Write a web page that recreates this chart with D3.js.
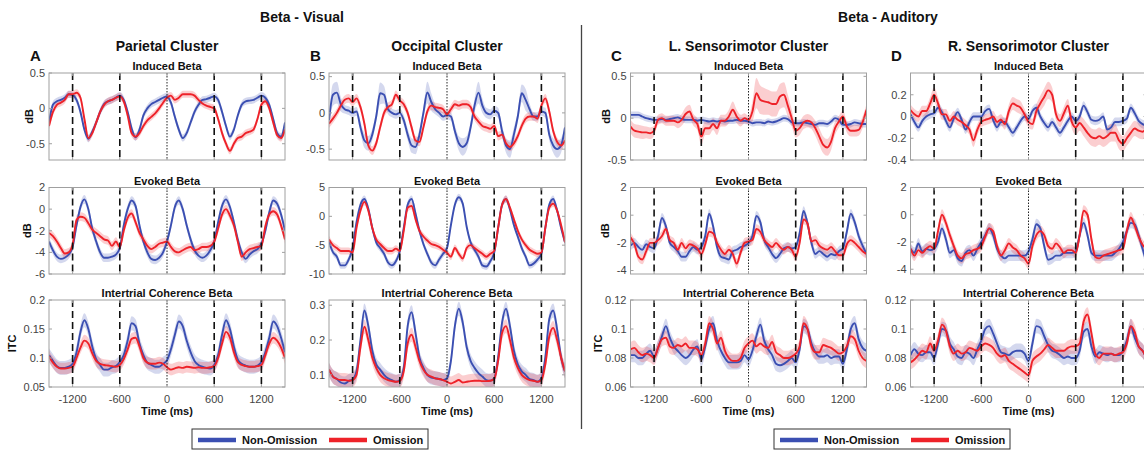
<!DOCTYPE html>
<html>
<head>
<meta charset="utf-8">
<script src="https://cdn.jsdelivr.net/npm/d3@7"></script>
<style>
  body { margin: 0; background: #fff; }
  text { font-family: "Liberation Sans", Arial, sans-serif; }
</style>
</head>
<body>
<svg id="chart" width="1144" height="451"></svg>
<script>
// time axis (ms), sampled every 50 ms
const times = [-1500,-1450,-1400,-1350,-1300,-1250,-1200,-1150,-1100,-1050,
  -1000,-950,-900,-850,-800,-750,-700,-650,-600,-550,
  -500,-450,-400,-350,-300,-250,-200,-150,-100,-50,
  0,50,100,150,200,250,300,350,400,450,
  500,550,600,650,700,750,800,850,900,950,
  1000,1050,1100,1150,1200,1250,1300,1350,1400,1450,1500];

const xTicks = [-1200, -600, 0, 600, 1200];
const cueTimes = [-1200, -600, 600, 1200];
const seriesNames = ['Non-Omission', 'Omission'];

// A - Parietal cluster
const parIndNon = [-0.2,0.05,0.1,0.12,0.15,0.2,0.19,0.12,-0.05,-0.3,
  -0.43,-0.33,-0.2,-0.05,0.06,0.1,0.12,0.15,0.18,0.12,
  -0.05,-0.28,-0.41,-0.3,-0.1,0.0,0.06,0.09,0.12,0.15,
  0.17,0.08,-0.12,-0.3,-0.42,-0.35,-0.2,-0.05,0.05,0.12,
  0.13,0.15,0.17,0.12,-0.05,-0.25,-0.4,-0.3,-0.1,0.05,
  0.1,0.11,0.12,0.15,0.18,0.15,0.05,-0.15,-0.35,-0.4,-0.2];
const parIndOm = [-0.25,-0.05,0.05,0.08,0.12,0.2,0.2,0.22,0.15,-0.15,
  -0.42,-0.35,-0.2,-0.05,0.05,0.1,0.12,0.15,0.17,0.1,
  -0.1,-0.35,-0.4,-0.35,-0.25,-0.17,-0.12,-0.07,0.0,0.08,
  0.15,0.18,0.12,0.15,0.2,0.2,0.2,0.18,0.12,0.07,
  0.04,0.02,0.0,-0.15,-0.35,-0.5,-0.6,-0.5,-0.42,-0.4,
  -0.35,-0.33,-0.3,-0.15,0.05,0.1,0.0,-0.2,-0.38,-0.42,-0.3];
const parEvoNon = [-3.0,-3.8,-4.4,-4.6,-4.5,-4.2,-3.5,-1.5,0.2,0.9,
  0.0,-1.8,-3.0,-4.0,-4.5,-4.5,-4.4,-4.2,-3.6,-1.5,
  0.0,0.8,0.3,-1.5,-3.0,-4.0,-4.6,-4.7,-4.5,-4.0,
  -3.0,-1.5,0.2,0.8,0.0,-1.5,-2.8,-3.8,-4.3,-4.5,
  -4.3,-3.8,-3.0,-1.2,0.3,0.9,0.2,-1.2,-2.8,-4.0,
  -4.6,-4.2,-3.9,-3.7,-3.2,-2.0,-0.3,0.8,0.5,-0.5,-2.0];
const parEvoOm = [-2.2,-2.5,-3.0,-3.6,-4.1,-4.0,-3.3,-1.0,-0.7,-0.8,
  -1.3,-1.9,-2.2,-2.5,-2.8,-2.9,-3.4,-3.0,-3.5,-2.0,
  -0.8,-0.4,-1.2,-2.2,-2.8,-3.4,-3.7,-3.5,-3.2,-3.1,
  -3.0,-3.5,-3.9,-4.0,-3.8,-3.6,-3.5,-3.8,-3.7,-3.5,
  -3.5,-3.4,-3.0,-1.8,-0.5,0.0,-0.6,-1.5,-3.0,-4.4,
  -4.0,-3.7,-3.6,-3.5,-3.4,-1.6,-0.5,-0.2,-0.5,-1.5,-2.8];
const parItcNon = [0.105,0.095,0.086,0.083,0.083,0.085,0.09,0.11,0.145,0.165,
  0.15,0.12,0.098,0.088,0.08,0.08,0.084,0.086,0.093,0.105,
  0.13,0.16,0.155,0.125,0.105,0.092,0.088,0.085,0.085,0.09,
  0.096,0.115,0.14,0.163,0.155,0.13,0.11,0.095,0.088,0.085,
  0.083,0.082,0.088,0.105,0.14,0.165,0.15,0.12,0.097,0.09,
  0.087,0.085,0.085,0.087,0.093,0.11,0.135,0.163,0.155,0.135,0.11];
const parItcOm = [0.103,0.092,0.085,0.082,0.082,0.083,0.085,0.1,0.118,0.13,
  0.125,0.108,0.095,0.09,0.088,0.087,0.086,0.085,0.088,0.098,
  0.115,0.133,0.135,0.12,0.1,0.092,0.09,0.09,0.092,0.09,
  0.084,0.08,0.082,0.084,0.083,0.085,0.084,0.083,0.084,0.083,
  0.083,0.084,0.086,0.1,0.125,0.145,0.135,0.11,0.093,0.088,
  0.086,0.085,0.085,0.086,0.088,0.105,0.125,0.135,0.13,0.118,0.1];

// B - Occipital cluster
const occIndNon = [-0.1,0.25,0.28,0.12,0.05,0.03,0.0,0.02,-0.2,-0.38,
  -0.42,-0.3,-0.05,0.27,0.25,0.05,0.0,-0.02,0.0,-0.1,
  -0.3,-0.45,-0.47,-0.3,0.0,0.28,0.15,0.05,0.0,-0.05,
  -0.03,-0.05,-0.25,-0.42,-0.47,-0.42,-0.2,0.1,0.28,0.1,
  0.0,-0.02,0.03,0.0,-0.25,-0.45,-0.5,-0.3,-0.05,0.27,
  0.18,0.05,-0.05,-0.05,0.02,0.0,-0.3,-0.45,-0.5,-0.45,-0.2];
const occIndOm = [-0.15,-0.08,0.0,0.1,0.18,0.2,0.15,0.2,0.08,-0.15,
  -0.45,-0.52,-0.42,-0.2,0.0,0.08,0.12,0.25,0.17,0.12,
  0.0,-0.2,-0.38,-0.4,-0.2,0.02,0.1,0.08,0.07,0.05,
  -0.02,0.05,0.12,0.1,0.12,0.12,0.08,-0.05,-0.12,-0.18,
  -0.2,-0.22,-0.18,-0.32,-0.3,-0.42,-0.47,-0.42,-0.32,-0.18,
  -0.08,-0.05,-0.05,-0.08,0.1,0.2,0.02,-0.25,-0.4,-0.45,-0.38];
const occEvoNon = [-4.5,-6.2,-7.0,-8.5,-8.5,-7.5,-5.5,-1.0,2.0,3.0,
  1.3,-2.0,-4.5,-5.5,-6.5,-8.0,-8.5,-7.8,-6.0,-2.0,
  2.0,3.0,0.5,-2.5,-4.8,-6.5,-8.0,-8.5,-7.5,-6.5,
  -5.5,-1.5,2.0,3.3,2.2,-1.8,-4.5,-5.8,-7.0,-8.5,
  -8.7,-7.8,-6.3,-2.0,2.0,3.0,1.2,-1.5,-3.5,-5.5,
  -7.0,-8.5,-8.2,-7.5,-6.5,-2.0,2.0,3.0,1.0,-2.0,-4.5];
const occEvoOm = [-4.0,-5.0,-5.5,-6.0,-6.0,-6.0,-6.3,-2.0,1.0,2.5,
  1.0,-2.0,-4.0,-4.8,-5.5,-6.0,-6.0,-5.6,-6.0,-2.5,
  1.5,1.8,-0.5,-2.5,-3.5,-4.2,-4.8,-5.0,-5.3,-5.8,
  -6.3,-7.0,-5.5,-6.5,-7.3,-5.5,-5.0,-5.5,-6.0,-6.5,
  -7.0,-6.5,-6.0,-2.0,2.0,3.0,1.5,-0.5,-2.5,-4.0,
  -5.0,-5.8,-6.2,-6.5,-6.3,-2.0,1.5,2.2,1.0,-1.5,-4.5];
const occItcNon = [0.115,0.095,0.088,0.078,0.075,0.082,0.087,0.11,0.2,0.285,
  0.24,0.17,0.13,0.115,0.1,0.09,0.085,0.08,0.085,0.12,
  0.24,0.28,0.22,0.15,0.12,0.1,0.092,0.09,0.088,0.085,
  0.09,0.14,0.24,0.29,0.25,0.18,0.14,0.12,0.105,0.095,
  0.085,0.083,0.09,0.15,0.25,0.29,0.24,0.17,0.13,0.11,
  0.1,0.088,0.085,0.08,0.09,0.15,0.26,0.285,0.23,0.15,0.11];
const occItcOm = [0.115,0.095,0.088,0.085,0.085,0.083,0.085,0.1,0.18,0.238,
  0.2,0.15,0.12,0.1,0.09,0.085,0.082,0.08,0.082,0.11,
  0.19,0.215,0.18,0.14,0.115,0.1,0.095,0.09,0.088,0.085,
  0.08,0.075,0.08,0.085,0.078,0.08,0.082,0.083,0.083,0.082,
  0.082,0.083,0.088,0.14,0.22,0.24,0.2,0.15,0.12,0.1,
  0.09,0.085,0.083,0.08,0.085,0.13,0.21,0.235,0.2,0.15,0.11];

// C - Left sensorimotor cluster
const lsmIndNon = [0.04,0.04,0.04,0.02,0.0,-0.01,-0.02,-0.02,-0.01,-0.02,
  -0.01,0.0,0.01,-0.01,-0.02,-0.02,-0.02,-0.03,-0.02,-0.03,
  -0.04,-0.03,-0.04,-0.03,-0.04,-0.03,-0.03,-0.02,-0.03,-0.03,
  -0.04,-0.06,-0.05,-0.05,-0.06,-0.04,-0.05,-0.04,-0.02,0.0,
  -0.01,-0.05,-0.06,-0.06,-0.05,-0.06,-0.07,-0.08,-0.06,-0.06,
  -0.07,-0.04,0.0,-0.02,-0.08,-0.08,-0.07,-0.05,-0.06,-0.07,-0.07];
const lsmIndOm = [-0.1,-0.15,-0.16,-0.17,-0.17,-0.18,-0.15,-0.02,0.0,-0.03,
  -0.03,-0.03,-0.05,-0.02,0.05,0.08,-0.02,-0.07,-0.22,-0.12,
  -0.12,-0.07,-0.12,-0.03,-0.03,0.02,0.1,0.02,-0.03,0.0,
  -0.02,0.08,0.3,0.22,0.2,0.19,0.17,0.17,0.26,0.28,
  0.15,0.0,-0.15,-0.12,-0.05,-0.03,-0.05,-0.12,-0.22,-0.32,
  -0.35,-0.28,-0.12,-0.04,0.02,-0.1,-0.15,-0.15,-0.14,-0.05,0.1];
const lsmEvoNon = [-2.2,-2.0,-2.3,-2.5,-2.1,-2.3,-2.4,-1.5,-0.2,-0.8,
  -2.0,-2.3,-2.6,-3.0,-3.0,-2.6,-2.3,-2.5,-2.3,-1.5,
  0.1,-0.8,-2.3,-3.0,-3.1,-3.2,-2.6,-2.5,-2.3,-2.2,
  -2.0,-1.5,-0.05,-0.5,-1.8,-2.3,-2.8,-3.1,-2.8,-2.4,
  -2.3,-2.4,-2.3,-1.3,0.3,-0.6,-2.0,-2.8,-2.6,-2.8,
  -3.0,-2.8,-2.9,-2.6,-2.4,-1.2,0.1,-0.5,-1.5,-2.2,-2.8];
const lsmEvoOm = [-1.6,-2.1,-3.0,-3.2,-2.6,-2.0,-2.0,-1.8,-1.5,-1.0,
  -1.8,-2.0,-2.5,-2.0,-2.4,-2.1,-2.2,-2.4,-2.8,-2.1,
  -1.2,-1.3,-2.0,-2.5,-2.8,-2.5,-2.8,-3.5,-2.7,-2.0,
  -1.9,-1.8,-1.0,-1.2,-1.8,-2.1,-2.3,-2.0,-2.3,-2.5,
  -2.3,-2.5,-3.0,-2.0,-0.3,-0.6,-1.9,-1.8,-2.2,-2.4,
  -2.5,-2.3,-2.6,-2.9,-2.9,-2.1,-1.8,-2.0,-2.3,-2.6,-2.8];
const lsmItcNon = [0.082,0.082,0.08,0.08,0.083,0.085,0.081,0.087,0.095,0.102,
  0.094,0.088,0.085,0.082,0.08,0.082,0.086,0.088,0.079,0.088,
  0.1,0.104,0.092,0.085,0.08,0.077,0.077,0.077,0.078,0.082,
  0.079,0.085,0.095,0.103,0.092,0.086,0.082,0.076,0.075,0.076,
  0.078,0.08,0.077,0.086,0.102,0.1,0.09,0.084,0.081,0.081,
  0.082,0.08,0.081,0.081,0.076,0.086,0.1,0.104,0.093,0.087,0.085];
const lsmItcOm = [0.086,0.087,0.084,0.082,0.083,0.082,0.08,0.087,0.093,0.094,
  0.088,0.087,0.089,0.088,0.09,0.087,0.087,0.086,0.082,0.09,
  0.104,0.1,0.09,0.094,0.085,0.08,0.078,0.078,0.08,0.087,
  0.09,0.092,0.088,0.09,0.088,0.087,0.091,0.084,0.082,0.08,
  0.08,0.081,0.083,0.088,0.104,0.1,0.088,0.084,0.084,0.089,
  0.088,0.087,0.085,0.083,0.084,0.088,0.095,0.093,0.085,0.08,0.078];

// D - Right sensorimotor cluster
const rsmIndNon = [0.02,-0.05,-0.1,-0.04,0.0,0.02,0.03,0.08,0.04,-0.04,
  -0.1,-0.02,0.04,-0.03,-0.12,-0.05,0.0,0.0,0.0,0.05,
  0.07,-0.03,-0.1,-0.05,-0.05,-0.1,-0.15,-0.1,-0.04,0.0,
  -0.02,0.05,0.08,0.0,-0.06,-0.1,-0.05,-0.1,-0.15,-0.1,
  -0.04,0.0,-0.04,0.0,0.1,0.04,-0.03,-0.04,-0.03,0.0,
  -0.12,-0.1,-0.05,-0.05,-0.04,-0.02,0.08,0.03,-0.04,-0.07,-0.08];
const rsmIndOm = [0.06,0.02,0.0,0.05,0.05,0.12,0.2,0.12,0.02,0.02,
  -0.04,0.0,-0.03,-0.05,-0.08,-0.12,-0.22,-0.12,-0.05,-0.03,
  -0.02,0.0,-0.05,-0.03,-0.07,0.05,0.12,0.1,0.08,0.02,
  -0.05,-0.07,0.05,0.12,0.18,0.24,0.2,0.02,-0.04,0.03,
  0.1,-0.05,-0.1,-0.06,-0.1,-0.15,-0.19,-0.2,-0.18,-0.2,
  -0.18,-0.15,-0.15,-0.22,-0.25,-0.2,-0.15,-0.11,-0.13,-0.14,-0.1];
const rsmEvoNon = [-2.5,-2.8,-2.1,-2.7,-2.5,-2.6,-2.5,-2.0,-1.0,-1.8,
  -2.8,-2.6,-3.2,-3.4,-2.8,-2.6,-3.0,-2.5,-2.0,-1.5,
  -1.0,-1.5,-2.5,-3.0,-3.2,-3.0,-3.0,-3.0,-3.0,-3.0,
  -2.7,-1.8,-0.7,-1.0,-2.3,-3.3,-3.2,-3.0,-3.0,-2.8,
  -2.8,-2.8,-2.7,-1.5,-0.6,-1.5,-2.8,-3.0,-3.0,-3.0,
  -3.0,-3.0,-2.8,-2.5,-2.0,-1.2,-0.6,-0.7,-1.5,-2.5,-3.5];
const rsmEvoOm = [-2.5,-3.0,-2.6,-2.8,-2.5,-2.3,-2.5,-1.2,0.0,-0.6,
  -1.5,-2.3,-3.0,-3.2,-2.9,-2.8,-2.6,-2.5,-2.3,-1.6,
  -1.0,-1.2,-2.3,-3.0,-2.6,-2.1,-2.4,-2.6,-3.0,-3.2,
  -3.6,-2.3,-1.5,-1.2,-1.5,-2.3,-2.5,-2.1,-2.4,-2.8,
  -2.6,-2.6,-2.8,-1.5,0.3,0.0,-1.8,-3.1,-3.2,-3.0,
  -2.9,-2.8,-2.7,-2.6,-2.5,-1.2,-0.2,-0.8,-1.6,-2.2,-2.5];
const rsmItcNon = [0.082,0.086,0.083,0.082,0.084,0.084,0.08,0.09,0.1,0.099,
  0.09,0.086,0.081,0.08,0.084,0.083,0.08,0.086,0.092,0.1,
  0.102,0.097,0.09,0.084,0.083,0.082,0.084,0.085,0.085,0.083,
  0.078,0.09,0.102,0.101,0.095,0.089,0.085,0.084,0.082,0.08,
  0.081,0.08,0.08,0.085,0.098,0.1,0.088,0.081,0.084,0.083,
  0.082,0.083,0.082,0.082,0.085,0.092,0.102,0.094,0.088,0.085,0.08];
const rsmItcOm = [0.077,0.079,0.082,0.085,0.084,0.09,0.085,0.092,0.103,0.099,
  0.088,0.083,0.085,0.083,0.084,0.087,0.086,0.085,0.088,0.09,
  0.089,0.087,0.083,0.081,0.082,0.078,0.076,0.074,0.072,0.07,
  0.068,0.078,0.081,0.083,0.086,0.089,0.087,0.085,0.085,0.085,
  0.087,0.088,0.088,0.09,0.105,0.11,0.097,0.083,0.08,0.083,
  0.083,0.083,0.082,0.083,0.084,0.09,0.102,0.098,0.088,0.085,0.08];

// standard error half-widths (single value where the band is even)
const occIndNonSem = [0.08,0.15,0.15,0.1,0.06,0.06,0.06,0.06,0.08,0.1,
  0.1,0.08,0.08,0.15,0.12,0.07,0.06,0.06,0.06,0.07,
  0.08,0.1,0.1,0.08,0.08,0.15,0.12,0.07,0.06,0.06,
  0.06,0.06,0.08,0.1,0.12,0.1,0.08,0.1,0.15,0.1,
  0.07,0.07,0.07,0.07,0.08,0.1,0.12,0.1,0.08,0.12,
  0.15,0.08,0.06,0.06,0.06,0.07,0.08,0.1,0.12,0.1,0.08];
const lsmIndOmSem = [0.08,0.08,0.08,0.08,0.07,0.07,0.06,0.06,0.06,0.06,
  0.06,0.06,0.07,0.07,0.08,0.08,0.07,0.07,0.1,0.08,
  0.08,0.07,0.08,0.07,0.07,0.08,0.1,0.08,0.07,0.06,
  0.05,0.12,0.18,0.17,0.16,0.15,0.15,0.15,0.15,0.15,
  0.13,0.1,0.08,0.08,0.08,0.08,0.08,0.09,0.1,0.1,
  0.1,0.1,0.08,0.07,0.07,0.07,0.07,0.07,0.07,0.07,0.07];
const rsmIndOmSem = [0.05,0.05,0.05,0.05,0.05,0.06,0.07,0.06,0.05,0.05,
  0.05,0.05,0.05,0.05,0.05,0.05,0.06,0.05,0.05,0.05,
  0.05,0.05,0.05,0.05,0.05,0.06,0.06,0.06,0.06,0.05,
  0.05,0.05,0.06,0.07,0.08,0.08,0.07,0.06,0.06,0.06,
  0.06,0.06,0.07,0.07,0.08,0.08,0.08,0.08,0.08,0.08,
  0.08,0.08,0.08,0.08,0.07,0.07,0.07,0.07,0.07,0.07,0.07];

// y tick labels
const ticksParInd = [-0.5, 0, 0.5], ticksParEvo = [-6, -4, -2, 0, 2], ticksParItc = [0.05, 0.1, 0.15, 0.2];
const ticksOccInd = [-0.5, 0, 0.5], ticksOccEvo = [-10, -5, 0, 5], ticksOccItc = [0.1, 0.2, 0.3];
const ticksLsmInd = [-0.5, 0, 0.5], ticksLsmEvo = [-4, -2, 0, 2], ticksLsmItc = [0.06, 0.08, 0.1, 0.12];
const ticksRsmInd = [-0.4, -0.2, 0, 0.2], ticksRsmEvo = [-4, -2, 0, 2], ticksRsmItc = [0.06, 0.08, 0.1, 0.12];

const blue = '#3b4fb2';
const red = '#ee2229';

const rowBox = [
  { top: 73, bottom: 160, title: 'Induced Beta', ylab: 'dB' },
  { top: 187.5, bottom: 274, title: 'Evoked Beta', ylab: 'dB' },
  { top: 300, bottom: 387, title: 'Intertrial Coherence Beta', ylab: 'ITC' }
];

const panels = [
  { letter: 'A', title: 'Parietal Cluster', x0: 49, x1: 285, letterX: 30, ylabX: [33, 31, 16],
    rows: [
      { non: parIndNon, om: parIndOm, semNon: 0.05, semOm: 0.05, dom: [-0.73, 0.5], ticks: ticksParInd },
      { non: parEvoNon, om: parEvoOm, semNon: 0.4, semOm: 0.4, dom: [-6, 2], ticks: ticksParEvo },
      { non: parItcNon, om: parItcOm, semNon: 0.012, semOm: 0.01, dom: [0.05, 0.2], ticks: ticksParItc }
    ] },
  { letter: 'B', title: 'Occipital Cluster', x0: 329, x1: 565, letterX: 310, ylabX: null,
    rows: [
      { non: occIndNon, om: occIndOm, semNon: occIndNonSem, semOm: 0.06, dom: [-0.65, 0.55], ticks: ticksOccInd },
      { non: occEvoNon, om: occEvoOm, semNon: 0.6, semOm: 0.6, dom: [-10, 5], ticks: ticksOccEvo },
      { non: occItcNon, om: occItcOm, semNon: 0.02, semOm: 0.02, dom: [0.065, 0.315], ticks: ticksOccItc }
    ] },
  { letter: 'C', title: 'L. Sensorimotor Cluster', x0: 630.5, x1: 866.5, letterX: 611, ylabX: [610, 609, 602],
    rows: [
      { non: lsmIndNon, om: lsmIndOm, semNon: 0.04, semOm: lsmIndOmSem, dom: [-0.5, 0.54], ticks: ticksLsmInd },
      { non: lsmEvoNon, om: lsmEvoOm, semNon: 0.35, semOm: 0.35, dom: [-4.25, 2], ticks: ticksLsmEvo },
      { non: lsmItcNon, om: lsmItcOm, semNon: 0.005, semOm: 0.005, dom: [0.06, 0.12], ticks: ticksLsmItc }
    ] },
  { letter: 'D', title: 'R. Sensorimotor Cluster', x0: 910.5, x1: 1146.5, letterX: 891, ylabX: null,
    rows: [
      { non: rsmIndNon, om: rsmIndOm, semNon: 0.04, semOm: rsmIndOmSem, dom: [-0.4, 0.4], ticks: ticksRsmInd },
      { non: rsmEvoNon, om: rsmEvoOm, semNon: 0.4, semOm: 0.4, dom: [-4.35, 2], ticks: ticksRsmEvo },
      { non: rsmItcNon, om: rsmItcOm, semNon: 0.005, semOm: 0.005, dom: [0.06, 0.12], ticks: ticksRsmItc }
    ] }
];

const svg = d3.select('#chart');
const defs = svg.append('defs');

// section headings + separator
svg.append('text').attr('x', 302).attr('y', 22).attr('text-anchor', 'middle')
  .style('font-size', '14px').style('font-weight', 'bold').attr('fill', '#111').text('Beta - Visual');
svg.append('text').attr('x', 888).attr('y', 22).attr('text-anchor', 'middle')
  .style('font-size', '14px').style('font-weight', 'bold').attr('fill', '#111').text('Beta - Auditory');
svg.append('line').attr('x1', 581.5).attr('x2', 581.5).attr('y1', 25).attr('y2', 429)
  .attr('stroke', '#444').attr('stroke-width', 1.3);

const fmt = function(v) { return String(v); };

panels.forEach(function(p, pi) {
  const g = svg.append('g').attr('class', 'panel-' + p.letter);
  const x = d3.scaleLinear().domain([-1500, 1500]).range([p.x0, p.x1]);

  g.append('text').attr('x', p.letterX).attr('y', 61)
    .style('font-size', '15px').style('font-weight', 'bold').attr('fill', '#111').text(p.letter);
  g.append('text').attr('x', (p.x0 + p.x1) / 2).attr('y', 51).attr('text-anchor', 'middle')
    .style('font-size', '14px').style('font-weight', 'bold').attr('fill', '#111').text(p.title);

  p.rows.forEach(function(r, ri) {
    const box = rowBox[ri];
    const y = d3.scaleLinear().domain(r.dom).range([box.bottom, box.top]);
    const clipId = 'clip-' + pi + '-' + ri;
    defs.append('clipPath').attr('id', clipId).append('rect')
      .attr('x', p.x0).attr('y', box.top).attr('width', p.x1 - p.x0).attr('height', box.bottom - box.top);

    const sub = g.append('g');
    const plot = sub.append('g').attr('clip-path', 'url(#' + clipId + ')');

    const series = [
      { vals: r.non, sem: r.semNon, color: blue },
      { vals: r.om, sem: r.semOm, color: red }
    ];
    const semAt = function(s, i) { return Array.isArray(s) ? s[i] : s; };

    series.forEach(function(s) {
      const area = d3.area()
        .x(function(d, i) { return x(times[i]); })
        .y0(function(d, i) { return y(d - semAt(s.sem, i)); })
        .y1(function(d, i) { return y(d + semAt(s.sem, i)); })
        .curve(d3.curveMonotoneX);
      plot.append('path').datum(s.vals).attr('d', area)
        .attr('fill', s.color).attr('fill-opacity', 0.22);
    });
    series.forEach(function(s) {
      const line = d3.line()
        .x(function(d, i) { return x(times[i]); })
        .y(function(d) { return y(d); })
        .curve(d3.curveMonotoneX);
      plot.append('path').datum(s.vals).attr('d', line)
        .attr('fill', 'none').attr('stroke', s.color).attr('stroke-width', 1.9);
    });

    // cue lines and stimulus onset
    sub.selectAll('line.cue').data(cueTimes).enter().append('line').attr('class', 'cue')
      .attr('x1', function(d) { return x(d); }).attr('x2', function(d) { return x(d); })
      .attr('y1', box.top).attr('y2', box.bottom)
      .attr('stroke', '#111').attr('stroke-width', 1.6).attr('stroke-dasharray', '7,4');
    sub.append('line').attr('x1', x(0)).attr('x2', x(0)).attr('y1', box.top).attr('y2', box.bottom)
      .attr('stroke', '#222').attr('stroke-width', 1).attr('stroke-dasharray', '1.5,1.5');

    // box
    sub.append('rect').attr('x', p.x0).attr('y', box.top)
      .attr('width', p.x1 - p.x0).attr('height', box.bottom - box.top)
      .attr('fill', 'none').attr('stroke', '#a0a0a0').attr('stroke-width', 1);

    // y ticks
    r.ticks.forEach(function(t) {
      const yy = y(t);
      sub.append('line').attr('x1', p.x0).attr('x2', p.x0 + 3).attr('y1', yy).attr('y2', yy).attr('stroke', '#a0a0a0');
      sub.append('line').attr('x1', p.x1).attr('x2', p.x1 - 3).attr('y1', yy).attr('y2', yy).attr('stroke', '#a0a0a0');
      sub.append('text').attr('x', p.x0 - 4).attr('y', yy).attr('dy', '0.35em')
        .attr('text-anchor', 'end').style('font-size', '11px').attr('fill', '#444').text(fmt(t));
    });

    // x ticks
    xTicks.forEach(function(t) {
      sub.append('line').attr('x1', x(t)).attr('x2', x(t)).attr('y1', box.bottom).attr('y2', box.bottom - 3).attr('stroke', '#a0a0a0');
      sub.append('line').attr('x1', x(t)).attr('x2', x(t)).attr('y1', box.top).attr('y2', box.top + 3).attr('stroke', '#a0a0a0');
      if (ri === 2) {
        sub.append('text').attr('x', x(t)).attr('y', box.bottom + 16).attr('text-anchor', 'middle')
          .style('font-size', '11px').attr('fill', '#444').text(fmt(t));
      }
    });

    // subplot title
    sub.append('text').attr('x', (p.x0 + p.x1) / 2).attr('y', box.top - 3).attr('text-anchor', 'middle')
      .style('font-size', '11px').style('font-weight', 'bold').attr('fill', '#111').text(box.title);

    if (p.ylabX) {
      sub.append('text')
        .attr('transform', 'translate(' + p.ylabX[ri] + ',' + ((box.top + box.bottom) / 2) + ') rotate(-90)')
        .attr('text-anchor', 'middle').style('font-size', '11px').style('font-weight', 'bold')
        .attr('fill', '#111').text(box.ylab);
    }
    if (ri === 2) {
      sub.append('text').attr('x', (p.x0 + p.x1) / 2).attr('y', box.bottom + 28).attr('text-anchor', 'middle')
        .style('font-size', '11px').style('font-weight', 'bold').attr('fill', '#111').text('Time (ms)');
    }
  });
});

// legends
const legends = [
  { x: 192, w: 236 },
  { x: 774, w: 236 }
];
legends.forEach(function(L) {
  const lg = svg.append('g').attr('transform', 'translate(' + L.x + ',429)');
  lg.append('rect').attr('x', 0).attr('y', 0).attr('width', L.w).attr('height', 20)
    .attr('fill', '#fff').attr('stroke', '#333').attr('stroke-width', 1);
  const items = [
    { name: seriesNames[0], color: blue, lx: 6, tx: 50 },
    { name: seriesNames[1], color: red, lx: 137, tx: 181 }
  ];
  items.forEach(function(it) {
    lg.append('line').attr('x1', it.lx).attr('x2', it.lx + 38).attr('y1', 11).attr('y2', 11)
      .attr('stroke', it.color).attr('stroke-width', 4.5);
    lg.append('text').attr('x', it.tx).attr('y', 15).style('font-size', '11px').style('font-weight', 'bold')
      .attr('fill', '#111').text(it.name);
  });
});
</script>
</body>
</html>
